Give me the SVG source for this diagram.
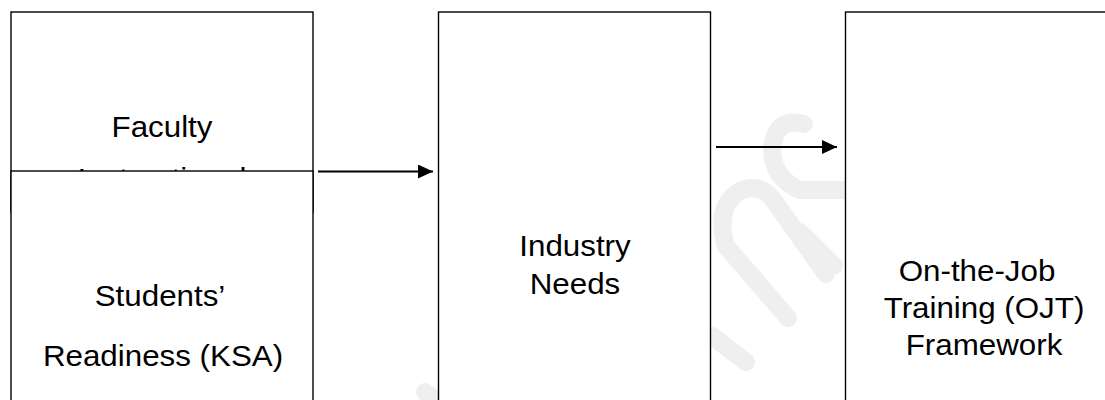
<svg xmlns="http://www.w3.org/2000/svg" width="1105" height="400" viewBox="0 0 1105 400">
  <style>
    .box { fill: #ffffff; stroke: #000000; stroke-width: 1.4; }
    .lbl { font-family: "Liberation Sans", Arial, sans-serif; font-size: 29px; fill: #000000; text-anchor: middle; }
    .wm { fill: none; stroke: #efefef; stroke-width: 18; stroke-linecap: round; stroke-linejoin: round; }
    .conn { stroke: #000000; stroke-width: 1.8; fill: none; }
  </style>
  <defs>
    <marker id="arrow" markerUnits="userSpaceOnUse" markerWidth="16" markerHeight="14" refX="15" refY="7" orient="auto">
      <path d="M0,0 L15,7 L0,14 Z" fill="#000000"/>
    </marker>
  </defs>
  <rect width="1105" height="400" fill="#ffffff"/>

  <g id="watermark">
    <path class="wm" d="M788,318 L726,246 Q714,205 742,190 Q760,184 772,198 L826,274"/>
    <path class="wm" d="M804,124 Q776,116 772,148 Q772,178 800,190 L850,190"/>
    <path class="wm" d="M712,336 L746,362"/>
    <path class="wm" d="M800,232 L834,266"/>
    <path class="wm" d="M425,392 L440,404"/>
  </g>

  <g id="node-faculty">
    <rect class="box" x="11" y="12" width="302" height="200"/>
    <g transform="translate(162,137) scale(1.08,1)"><text class="lbl" x="0" y="0">Faculty</text></g>
    <g transform="translate(162,189) scale(1.08,1)"><text class="lbl" x="0" y="0">Instructional</text></g>
  </g>

  <g id="node-students">
    <rect class="box" x="11" y="171" width="302" height="240"/>
    <g transform="translate(160,306) scale(1.08,1)"><text class="lbl" x="0" y="0">Students’</text></g>
    <g transform="translate(163,366) scale(1.08,1)"><text class="lbl" x="0" y="0">Readiness (KSA)</text></g>
  </g>

  <g id="node-industry">
    <rect class="box" x="438.5" y="12" width="272" height="400"/>
    <g transform="translate(575,256) scale(1.08,1)"><text class="lbl" x="0" y="0">Industry</text></g>
    <g transform="translate(575,294) scale(1.08,1)"><text class="lbl" x="0" y="0">Needs</text></g>
  </g>

  <g id="node-ojt">
    <rect class="box" x="845.5" y="12" width="300" height="400"/>
    <g transform="translate(977,281) scale(1.08,1)"><text class="lbl" x="0" y="0">On-the-Job</text></g>
    <g transform="translate(984,318) scale(1.08,1)"><text class="lbl" x="0" y="0">Training (OJT)</text></g>
    <g transform="translate(984,355) scale(1.08,1)"><text class="lbl" x="0" y="0">Framework</text></g>
  </g>

  <g id="connectors">
    <line class="conn" x1="318" y1="171.5" x2="433" y2="171.5" marker-end="url(#arrow)"/>
    <line class="conn" x1="716" y1="147" x2="837" y2="147" marker-end="url(#arrow)"/>
  </g>
</svg>
